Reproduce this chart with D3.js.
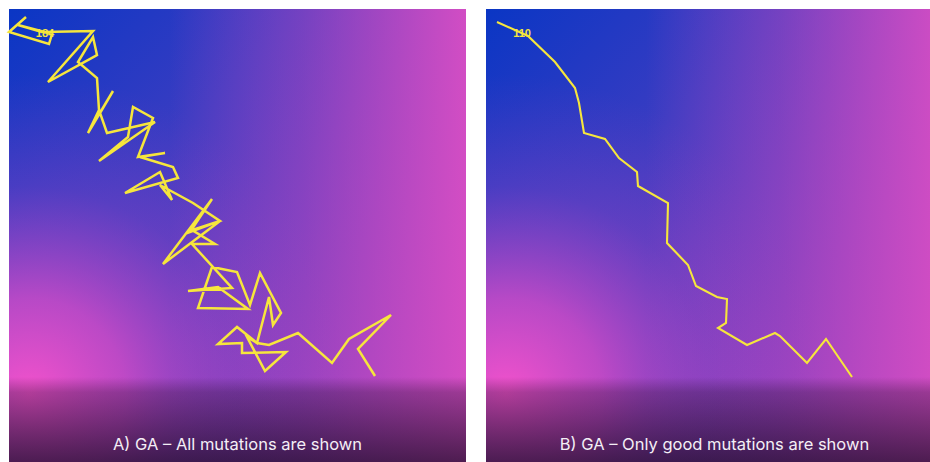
<!DOCTYPE html>
<html><head><meta charset="utf-8">
<script src="https://cdn.jsdelivr.net/npm/d3@7"></script>
<style>
html,body{margin:0;padding:0;background:#fff;}
svg{display:block;}
</style></head>
<body>
<svg id="chart" width="930" height="462"></svg>
<script>
// Panel titles
const titles = ["A) GA \u2013 All mutations are shown", "B) GA \u2013 Only good mutations are shown"];
// Generation counters shown near the start of each path
const counters = ["184", "110"];
const counterPosA = [45, 33];
const counterPosB = [522, 33];

// Path A: every mutation (x, y in landscape units)
const pathAx = [26,9,49,52,18,42,93,48,97,93,78,97,99,88,113,100,107,155,99,128,133,153,138,165,140,173,178,125,160,172,160,193,220,190,212,163,220,192,215,192,232,188,218,248,198,212,237,250,260,281,273,269,257,237,218,242,242,286,265,247,257,269,298,332,349,391,358,375];
const pathAy = [17,32,44,34,25,32,31,82,55,37,62,78,110,133,91,113,133,122,161,137,107,118,157,153,157,167,178,193,172,200,185,203,221,232,199,264,221,230,244,244,288,291,287,309,308,267,272,305,273,313,325,297,343,327,344,343,353,352,371,337,343,345,333,363,339,315,349,376];

// Path B: only good mutations
const pathBx = [497,528,555,575,579,584,605,619,637,638,668,667,688,696,717,727,726,718,747,775,780,807,826,852];
const pathBy = [22,36,62,88,103,133,139,158,172,186,203,243,265,286,297,299,323,328,345,333,336,363,339,377];

const svg = d3.select("#chart");
const defs = svg.append("defs");

const panelW = 457, panelH = 453;

function lin(id, x1, y1, x2, y2, stops) {
  const g = defs.append("linearGradient").attr("id", id)
    .attr("gradientUnits","userSpaceOnUse")
    .attr("x1", x1).attr("y1", y1).attr("x2", x2).attr("y2", y2);
  stops.forEach(s => g.append("stop").attr("offset", s[0]).attr("stop-color", s[1]).attr("stop-opacity", s[2]));
}
lin("base", 0, 0, 420, 420, [[0,"#0a36c4",1],[0.35,"#3a3cc2",1],[0.7,"#6a3ec0",1],[1,"#9040c0",1]]);
lin("right", 160, 0, 457, 0, [[0,"#d44cc2",0],[0.45,"#cc4ac0",0.4],[1,"#d84ec4",0.95]]);
lin("shade", 0, 368, 0, 453, [[0,"#1a0a24",0],[0.18,"#1a0a24",0.3],[1,"#1a0a24",0.72]]);

const rg = defs.append("radialGradient").attr("id","bl")
  .attr("gradientUnits","userSpaceOnUse")
  .attr("cx", 20).attr("cy", 385).attr("r", 320);
[[0,"#f252cc",1],[0.3,"#e64ec8",0.72],[0.65,"#c048c2",0.22],[1,"#a040c0",0]]
  .forEach(s => rg.append("stop").attr("offset", s[0]).attr("stop-color", s[1]).attr("stop-opacity", s[2]));

const panels = [
  {x0: 9, xs: pathAx, ys: pathAy, title: titles[0], counter: counters[0], cpos: counterPosA, w: 2.5},
  {x0: 486, xs: pathBx, ys: pathBy, title: titles[1], counter: counters[1], cpos: counterPosB, w: 2.1}
];

panels.forEach((p, i) => {
  const g = svg.append("g").attr("transform", `translate(${p.x0},9)`);
  const x = d3.scaleLinear().domain([p.x0, p.x0 + panelW]).range([0, panelW]);
  const y = d3.scaleLinear().domain([9, 9 + panelH]).range([0, panelH]);

  g.append("rect").attr("width", panelW).attr("height", panelH).attr("fill","url(#base)");
  g.append("rect").attr("width", panelW).attr("height", panelH).attr("fill","url(#right)");
  g.append("rect").attr("width", panelW).attr("height", panelH).attr("fill","url(#bl)");
  g.append("rect").attr("y", 368).attr("width", panelW).attr("height", panelH - 368).attr("fill","url(#shade)");

  const pts = p.xs.map((v, k) => [v, p.ys[k]]);
  const line = d3.line().x(d => x(d[0])).y(d => y(d[1]));
  g.append("path").datum(pts).attr("d", line)
    .attr("fill","none").attr("stroke","#f6e63c").attr("stroke-width", p.w)
    .attr("stroke-linejoin","miter").attr("stroke-miterlimit", 4);

  g.append("text").attr("x", x(p.cpos[0])).attr("y", y(p.cpos[1]))
    .attr("dy","0.35em").attr("text-anchor","middle")
    .attr("font-family","Liberation Sans, Arial, sans-serif").attr("font-weight","bold")
    .attr("font-size", 11).attr("fill","#f6e63c").text(p.counter);

  g.append("text").attr("x", panelW / 2).attr("y", 441)
    .attr("text-anchor","middle")
    .attr("font-family","Inter, Liberation Sans, sans-serif")
    .attr("font-size", 16.5).attr("fill","#f4eef6").text(p.title);
});
</script>
</body></html>
